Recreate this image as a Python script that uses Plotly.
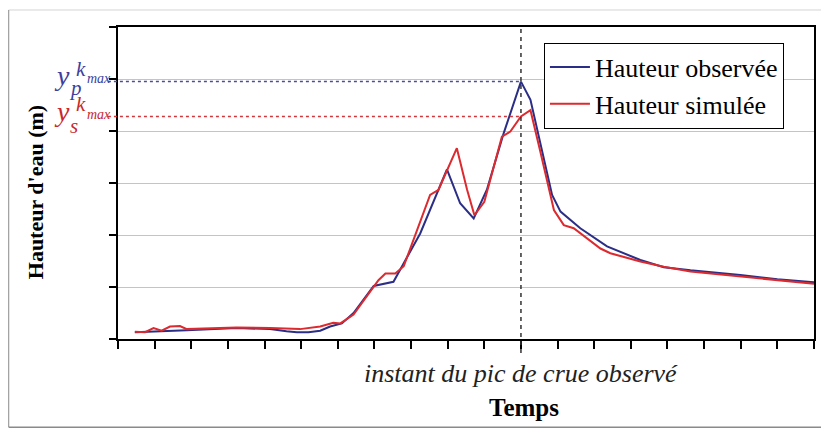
import plotly.graph_objects as go

# ---- data ----
t_obs = [0.46, 0.97, 1.88, 3.24, 4.15, 4.6, 4.88, 5.2, 5.52, 5.79, 6.11, 6.43, 6.98, 7.52,
         8.25, 8.98, 9.34, 9.71, 10.07, 10.53, 11.0, 11.26, 11.53, 11.85, 12.08, 12.62,
         13.35, 14.26, 14.9, 15.63, 16.99, 18.0, 19.0]
h_obs = [0.13, 0.14, 0.17, 0.21, 0.19, 0.15, 0.13, 0.13, 0.16, 0.24, 0.30, 0.50, 1.02, 1.10,
         2.03, 3.26, 2.61, 2.32, 2.87, 3.96, 4.95, 4.60, 3.77, 2.77, 2.45, 2.13,
         1.78, 1.52, 1.38, 1.32, 1.23, 1.15, 1.09]

t_sim = [0.46, 0.74, 0.97, 1.19, 1.42, 1.69, 1.88, 3.24, 4.15, 4.97, 5.52, 5.88, 6.07, 6.43,
         7.11, 7.30, 7.57, 7.80, 8.52, 8.75, 9.25, 9.53, 9.73, 10.0, 10.48, 10.71, 11.0,
         11.26, 11.53, 11.9, 12.17, 12.44, 13.17, 13.44, 14.26, 14.9, 15.63, 16.99, 18.0, 19.0]
h_sim = [0.14, 0.13, 0.21, 0.16, 0.24, 0.25, 0.19, 0.22, 0.21, 0.19, 0.24, 0.31, 0.30, 0.47,
         1.13, 1.26, 1.26, 1.40, 2.77, 2.87, 3.67, 2.87, 2.38, 2.64, 3.89, 3.99, 4.28,
         4.40, 3.60, 2.48, 2.19, 2.13, 1.74, 1.65, 1.49, 1.39, 1.30, 1.20, 1.12, 1.06]

x_ticks = list(range(0, 20))
y_ticks = list(range(0, 7))
X_MAX = 19
Y_MAX = 6

series_names = ["Hauteur observée", "Hauteur simulée"]
x_label = "Temps"
y_label = "Hauteur d'eau (m)"
peak_label = "instant du pic de crue observé"

BLUE = "#2b2e86"
RED = "#dc2a2e"
BLUE_TXT = "#3d3f9c"
RED_TXT = "#c8282d"
SERIF = "Liberation Serif, Times New Roman, serif"

# derived reference values
i_peak = max(range(len(h_obs)), key=lambda i: h_obs[i])
PEAK_T = t_obs[i_peak]
Y_OBS_PEAK = h_obs[i_peak]
Y_SIM_AT_PEAK = h_sim[t_sim.index(PEAK_T)]

fig = go.Figure()
fig.add_trace(go.Scatter(x=t_obs, y=h_obs, mode="lines", name=series_names[0],
                         line=dict(color=BLUE, width=2)))
fig.add_trace(go.Scatter(x=t_sim, y=h_sim, mode="lines", name=series_names[1],
                         line=dict(color=RED, width=2)))

axis_common = dict(showline=True, linecolor="black", linewidth=2, mirror=True,
                   ticks="outside", tickcolor="black", tickwidth=2,
                   showticklabels=False, zeroline=False)

fig.update_xaxes(range=[0, X_MAX], tickvals=x_ticks, ticklen=8, showgrid=False, **axis_common)
fig.update_yaxes(range=[0, Y_MAX], tickvals=y_ticks, ticklen=7, showgrid=True,
                 gridcolor="#c4c4c4", gridwidth=1, **axis_common)

shapes = [
    # outer frame of the figure
    dict(type="line", xref="paper", yref="paper", x0=-0.157, x1=1.05, y0=1.0545, y1=1.0545,
         line=dict(color="#d4d4d4", width=1)),
    dict(type="line", xref="paper", yref="paper", x0=-0.157, x1=-0.157, y0=-0.283, y1=1.0545,
         line=dict(color="#8a8a8a", width=1)),
    dict(type="line", xref="paper", yref="paper", x0=-0.157, x1=1.05, y0=-0.283, y1=-0.283,
         line=dict(color="#8a8a8a", width=1.5)),
    # vertical dashed line at the observed peak
    dict(type="line", xref="x", yref="paper", x0=PEAK_T, x1=PEAK_T, y0=-0.045, y1=1,
         line=dict(color="#333333", width=1.5, dash="4px,4px")),
    # horizontal dashed lines
    dict(type="line", xref="paper", yref="y", x0=-0.0145, x1=PEAK_T / X_MAX,
         y0=Y_OBS_PEAK, y1=Y_OBS_PEAK, line=dict(color="#4a4c9c", width=1.5, dash="3px,3px")),
    dict(type="line", xref="paper", yref="y", x0=-0.0145, x1=PEAK_T / X_MAX,
         y0=Y_SIM_AT_PEAK, y1=Y_SIM_AT_PEAK, line=dict(color="#d0383c", width=1.5, dash="3px,3px")),
]

annotations = []
AXIS_LEFT = 118  # page pixel of the y axis


def lab(text, size, color, left_px, yval, yshift):
    annotations.append(dict(text="<i>" + text + "</i>", xref="paper", yref="y", x=0, y=yval,
                            xanchor="left", yanchor="middle", xshift=left_px - AXIS_LEFT,
                            yshift=yshift, showarrow=False,
                            font=dict(family=SERIF, size=size, color=color)))


# y_p^{k_max}
lab("y", 28, BLUE_TXT, 52, Y_OBS_PEAK, 6)
lab("k", 21, BLUE_TXT, 74, Y_OBS_PEAK, 13)
lab("max", 14, BLUE_TXT, 85, Y_OBS_PEAK, 3)
lab("p", 21, BLUE_TXT, 67, Y_OBS_PEAK, -6)
# y_s^{k_max}
lab("y", 28, RED_TXT, 52, Y_SIM_AT_PEAK, 5)
lab("k", 21, RED_TXT, 74, Y_SIM_AT_PEAK, 12)
lab("max", 14, RED_TXT, 85, Y_SIM_AT_PEAK, 2)
lab("s", 21, RED_TXT, 68, Y_SIM_AT_PEAK, -10)

annotations.append(dict(text="<i>" + peak_label + "</i>", xref="x", yref="paper",
                        x=PEAK_T, y=-0.11, xanchor="center", yanchor="middle", showarrow=False,
                        font=dict(family=SERIF, size=26, color="#222222")))
annotations.append(dict(text="<b>" + x_label + "</b>", xref="paper", yref="paper",
                        x=(524 - 118) / 696, y=-0.218, xanchor="center", yanchor="middle",
                        showarrow=False, font=dict(family=SERIF, size=25, color="black")))
annotations.append(dict(text="<b>" + y_label + "</b>", xref="paper", yref="paper",
                        x=-0.119, y=0.471, xanchor="center", yanchor="middle", textangle=-90,
                        showarrow=False, font=dict(family=SERIF, size=22, color="black")))

# the page adds an 8px body margin, so the figure is 8px smaller and margins shifted
fig.update_layout(
    width=821, height=421,
    margin=dict(l=110, r=15, t=19, b=90),
    paper_bgcolor="white", plot_bgcolor="white",
    shapes=shapes, annotations=annotations,
    showlegend=True,
    legend=dict(x=0.612, y=0.95, xanchor="left", yanchor="top",
                bgcolor="white", bordercolor="black", borderwidth=1,
                font=dict(family=SERIF, size=26, color="black"),
                tracegroupgap=0, itemwidth=40),
)

fig.write_html("out.html")
